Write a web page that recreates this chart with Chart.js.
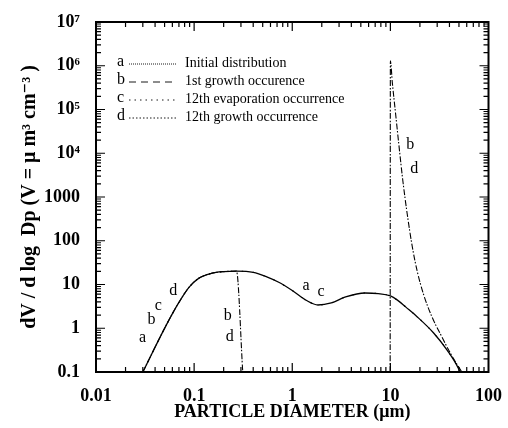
<!DOCTYPE html>
<html>
<head>
<meta charset="utf-8">
<script src="https://cdn.jsdelivr.net/npm/chart.js@4.4.0/dist/chart.umd.min.js"></script>
<style>
  html, body { margin: 0; padding: 0; background: #fff; }
  #wrap { width: 508px; height: 428px; }
</style>
</head>
<body>
<div id="wrap"><canvas id="chart"></canvas></div>
<script>
// curve a / c : initial distribution and 12th evaporation
const diamA = [0.03, 0.052, 0.0705, 0.089, 0.112, 0.15, 0.2, 0.27, 0.4, 0.55, 0.72, 1.0, 1.4, 1.83, 2.5, 3.5, 5.5, 7.5, 10, 11.8, 14.5, 18.7, 27.6, 37.7, 49.4, 51];
const valA  = [0.1, 1.18, 4.0, 8.7, 14, 18, 19.7, 20.2, 19, 15, 11.4, 7.3, 4.3, 3.4, 3.8, 5.2, 6.4, 6.2, 5.5, 4.4, 3.0, 1.84, 0.78, 0.32, 0.12, 0.1];

// curve b / d : 1st and 12th growth
const diamB = [0.03, 0.052, 0.0705, 0.089, 0.112, 0.15, 0.2, 0.27, 0.313, 1, 9.95, 10, 10.48, 11.31, 12.24, 13.37, 14.85, 16.68, 18.74, 22.05, 26.56, 32.75, 41.32, 53.4];
const valB  = [0.1, 1.18, 4.0, 8.7, 14, 18, 19.7, 20.2, 0.1, null, 0.1, 1.29e6, 4.0e5, 7.9e4, 1.47e4, 2450, 408, 75.9, 20.4, 5.46, 1.81, 0.70, 0.258, 0.1];

const xTickValues = [0.01, 0.1, 1, 10, 100];
const xTickLabels = ['0.01', '0.1', '1', '10', '100'];
const yTickValues = [0.1, 1, 10, 100, 1000, 1e4, 1e5, 1e6, 1e7];
const yTickLabels = ['0.1', '1', '10', '100', '1000', '10\u2074', '10\u2075', '10\u2076', '10\u2077'];

const legendKeys  = ['a', 'b', 'c', 'd'];
const legendNames = ['Initial distribution', '1st growth occurence', '12th evaporation occurrence', '12th growth occurrence'];

// curve letters placed next to the curves (data coordinates)
const noteText = ['a', 'b', 'c', 'd', 'b', 'd', 'a', 'c', 'b', 'd'];
const noteX    = [0.0299, 0.0368, 0.0432, 0.0614, 0.22, 0.231, 1.38, 1.96, 15.9, 17.5];
const noteY    = [0.6, 1.55, 3.2, 7.1, 1.9, 0.63, 9.2, 6.7, 1.55e4, 4400];

const toPts = (xs, ys) => xs.map((x, i) => ({ x: x, y: ys[i] }));
const serif = '"Liberation Serif", "DejaVu Serif", serif';
const legendDash = [[1, 1], [7, 5], [1.5, 4], [1.5, 2]];
const lineDash = [[], [6, 5], [1.5, 9.5], [1.5, 9.5]];

const datasets = legendKeys.map((k, i) => ({
    label: legendNames[i],
    data: (i % 2 === 0) ? toPts(diamA, valA) : toPts(diamB, valB),
    borderColor: '#000',
    borderWidth: i === 0 ? 1.3 : 1.1,
    borderDash: lineDash[i],
    borderDashOffset: i === 3 ? -7.5 : 0,
    pointRadius: 0,
    fill: false,
    spanGaps: false,
    cubicInterpolationMode: 'monotone'
}));

const framePlugin = {
    id: 'frame',
    afterDraw(chart) {
        const { ctx, chartArea: a, scales: { x, y } } = chart;
        ctx.save();
        ctx.strokeStyle = '#000';
        ctx.lineWidth = 2;
        ctx.strokeRect(a.left, a.top, a.right - a.left, a.bottom - a.top);
        ctx.lineWidth = 1.2;
        ctx.beginPath();
        for (let e = -2; e < 2; e++) {
            for (let m = 1; m < 10; m++) {
                const px = x.getPixelForValue(m * Math.pow(10, e));
                const len = m === 1 ? 9 : 5;
                ctx.moveTo(px, a.bottom); ctx.lineTo(px, a.bottom - len);
                ctx.moveTo(px, a.top); ctx.lineTo(px, a.top + len);
            }
        }
        for (let e = -1; e < 7; e++) {
            for (let m = 1; m < 10; m++) {
                const py = y.getPixelForValue(m * Math.pow(10, e));
                const len = m === 1 ? 9 : 5;
                ctx.moveTo(a.left, py); ctx.lineTo(a.left + len, py);
                ctx.moveTo(a.right, py); ctx.lineTo(a.right - len, py);
            }
        }
        ctx.stroke();

        // legend
        ctx.fillStyle = '#000';
        ctx.textBaseline = 'middle';
        legendKeys.forEach((k, i) => {
            const yy = a.top + 41 + i * 18;
            ctx.textAlign = 'left';
            ctx.font = '16px ' + serif;
            ctx.fillText(k, a.left + 21, yy - 1);
            ctx.font = '14px ' + serif;
            ctx.fillText(legendNames[i], a.left + 89, yy);
            ctx.beginPath();
            ctx.lineWidth = 0.9;
            ctx.setLineDash(legendDash[i]);
            ctx.moveTo(a.left + 33, yy + 1);
            ctx.lineTo(a.left + 81, yy + 1);
            ctx.stroke();
            ctx.setLineDash([]);
        });

        // curve letters
        ctx.font = '16px ' + serif;
        ctx.textAlign = 'center';
        noteText.forEach((t, i) => {
            ctx.fillText(t, x.getPixelForValue(noteX[i]), y.getPixelForValue(noteY[i]));
        });
        ctx.restore();
    }
};

new Chart(document.getElementById('chart'), {
    type: 'line',
    data: { datasets: datasets },
    plugins: [framePlugin],
    options: {
        responsive: true,
        maintainAspectRatio: false,
        animation: false,
        layout: { padding: { top: 22, right: 16, left: 0, bottom: 0 } },
        plugins: { legend: { display: false }, tooltip: { enabled: false } },
        scales: {
            x: {
                type: 'logarithmic',
                min: 0.01, max: 100,
                grid: { display: false },
                border: { display: false },
                afterBuildTicks: s => { s.ticks = xTickValues.map(v => ({ value: v })); },
                afterFit: s => { s.height = 56; },
                ticks: {
                    autoSkip: false, maxRotation: 0, padding: 6,
                    color: '#000',
                    font: { family: serif, size: 18, weight: 'bold' },
                    callback: (v, i) => xTickLabels[i]
                },
                title: {
                    display: true, text: 'PARTICLE DIAMETER (\u03bcm)',
                    color: '#000', padding: { top: 0, bottom: 5 },
                    font: { family: serif, size: 18, weight: 'bold' }
                }
            },
            y: {
                type: 'logarithmic',
                min: 0.1, max: 1e7,
                grid: { display: false },
                border: { display: false },
                afterBuildTicks: s => { s.ticks = yTickValues.map(v => ({ value: v })); },
                afterFit: s => { s.width = 96; },
                ticks: {
                    autoSkip: false, padding: 8,
                    color: '#000',
                    font: { family: serif, size: 18, weight: 'bold' },
                    callback: (v, i) => yTickLabels[i]
                },
                title: {
                    display: true, text: 'dV / d log  Dp (V = \u03bc m\u00b3 cm\u207b\u00b3 )',
                    color: '#000', padding: { top: 18, bottom: 0 },
                    font: { family: serif, size: 20, weight: 'bold' }
                }
            }
        }
    }
});
</script>
</body>
</html>
